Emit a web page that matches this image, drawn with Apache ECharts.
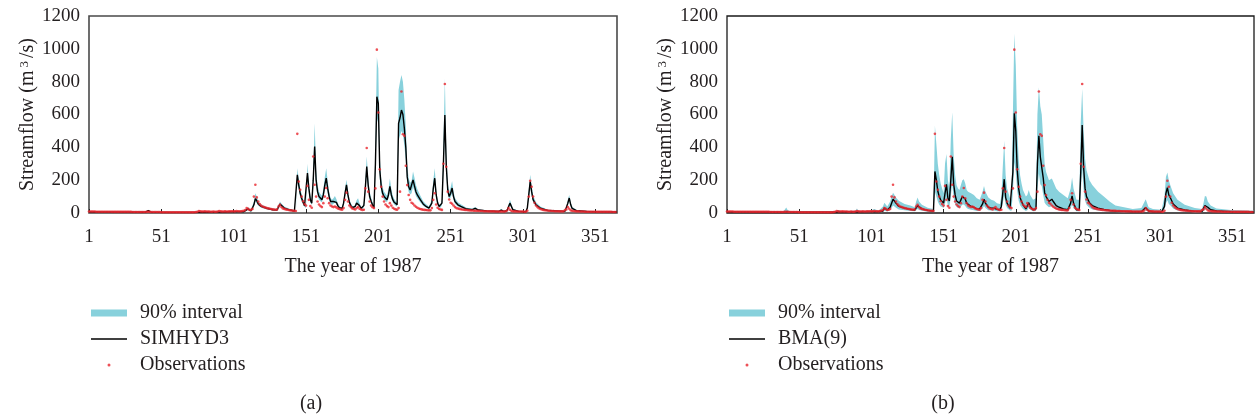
<!DOCTYPE html>
<html>
<head>
<meta charset="utf-8">
<title>Streamflow 1987</title>
<script src="https://cdn.jsdelivr.net/npm/echarts@6/dist/echarts.min.js"></script>
<style>
    body { margin: 0; background: #fff; }
    #main { width: 1257px; height: 419px; }
</style>
</head>
<body>
<div id="main"></div>
<script>
// axis ticks
var xTicks = [1, 51, 101, 151, 201, 251, 301, 351];
var dayMin = 1, dayMax = 366;
var yMax = 1200, yStep = 200;

// observed daily flow, day 1..365 (same in both panels)
var obs = [
    9,9,9,9,9,8,8,8,8,8,
    8,8,8,8,8,8,7,7,7,7,
    7,7,7,7,7,7,7,7,7,7,
    6,6,6,6,6,6,6,6,6,6,
    7,8,7,6,6,6,6,6,6,6,
    5,5,5,5,5,5,5,5,5,5,
    5,5,5,5,5,5,5,5,5,5,
    5,5,5,5,6,8,12,10,9,9,
    10,9,9,9,8,8,9,8,8,9,
    12,10,9,9,10,9,9,10,10,11,
    10,10,12,11,11,10,12,14,18,30,
    25,18,20,25,100,172,95,70,55,45,
    40,36,33,30,28,26,24,22,21,20,
    22,40,50,36,28,25,22,20,18,16,
    15,14,13,12,482,192,142,100,72,55,
    45,165,80,42,32,344,172,100,70,52,
    42,36,60,100,152,90,60,46,40,36,
    40,34,28,24,22,20,30,80,124,70,
    46,36,28,24,22,30,36,26,21,18,
    20,150,396,130,70,45,35,30,150,995,
    612,266,160,100,70,52,42,36,60,45,
    32,26,22,20,30,130,740,480,470,288,
    170,110,80,62,56,46,38,32,27,24,
    22,20,19,18,17,16,16,30,80,120,
    52,32,24,21,19,300,786,282,130,82,
    62,56,46,36,30,27,25,23,21,20,
    19,18,17,16,15,15,14,14,13,13,
    12,12,12,11,11,11,10,10,10,10,
    10,9,9,9,9,9,9,9,10,15,
    30,20,13,11,10,10,9,9,9,9,
    9,8,8,14,100,196,160,100,62,46,
    36,29,24,21,19,17,16,15,14,13,
    12,12,11,11,11,10,10,10,10,18,
    22,36,26,16,13,12,11,10,10,9,
    9,9,9,8,8,8,8,8,8,8,
    8,7,7,7,7,7,7,7,7,7,
    7,7,6,6,6
];

// panel (a): SIMHYD3 and its 90% interval
var daysA = [
    1,40,42,44,50,78,95,100,108,111,
    113,115,116,117,118,120,124,128,131,133,
    134,136,140,143,144,145,146,147,148,149,
    150,151,152,153,154,155,156,157,158,159,
    160,161,162,163,164,165,166,167,168,169,
    170,171,172,173,174,175,176,177,178,179,
    180,181,182,183,184,185,186,187,188,189,
    190,191,192,193,194,195,196,197,198,199,
    200,201,202,203,204,205,206,207,208,209,
    210,211,212,213,214,215,216,217,218,219,
    220,221,222,223,224,225,226,227,228,230,
    232,234,236,238,239,240,241,242,243,244,
    245,246,247,248,249,250,251,252,253,254,
    256,258,262,266,268,270,276,284,286,288,
    290,292,294,298,303,304,305,306,307,308,
    310,313,318,330,331,332,333,334,335,338,
    345,351,366
];
var simA = [
    6,5,15,5,4,5,6,8,8,25,
    12,50,88,75,55,40,28,20,18,55,
    45,30,18,12,10,233,170,120,90,65,
    45,40,243,150,80,60,200,405,200,130,
    100,90,81,110,170,212,150,100,70,60,
    70,80,65,45,32,25,28,60,120,172,
    110,65,45,32,30,40,60,70,45,28,
    26,45,150,283,170,100,72,50,30,300,
    708,668,263,162,120,100,90,81,110,162,
    110,81,65,55,50,546,580,627,600,516,
    400,220,160,140,150,202,165,130,110,81,
    55,40,30,60,150,212,110,60,40,40,
    60,300,597,283,140,100,120,152,100,70,
    50,40,24,20,28,18,12,9,18,9,
    15,60,20,10,8,30,110,192,130,81,
    50,30,15,10,20,60,91,50,28,14,
    9,8,6
];
var loA = [
    4,3,10,3,3,3,4,5,5,18,
    8,40,70,60,45,32,22,15,14,45,
    36,24,14,9,8,190,140,95,72,52,
    36,30,195,120,65,48,160,330,165,105,
    80,72,65,90,140,175,122,80,56,48,
    56,64,52,36,26,20,22,48,100,140,
    90,52,36,26,24,32,48,56,36,22,
    21,36,120,230,140,80,58,40,24,240,
    580,540,210,130,96,80,72,65,88,130,
    88,65,52,44,40,440,470,500,480,410,
    320,175,128,112,120,160,132,104,88,65,
    44,32,24,48,120,170,88,48,32,32,
    48,240,480,225,112,80,96,120,80,56,
    40,32,19,16,22,14,9,7,14,7,
    12,48,16,8,6,24,90,155,105,65,
    40,24,12,8,16,48,73,40,22,11,
    7,6,4
];
var hiA = [
    9,8,20,8,7,8,9,11,12,35,
    18,70,120,100,72,52,36,27,24,70,
    58,40,24,17,14,273,210,150,115,85,
    60,55,300,190,105,80,260,546,260,170,
    130,115,105,145,220,273,195,130,92,80,
    90,104,85,60,44,34,38,78,150,202,
    140,85,60,44,40,52,78,90,60,38,
    35,60,190,344,215,130,95,66,40,400,
    951,880,340,210,155,130,117,105,145,210,
    145,105,85,72,66,750,800,840,800,690,
    530,290,210,184,195,253,215,170,145,106,
    72,54,40,80,200,273,145,80,54,54,
    80,420,820,370,185,130,155,195,130,92,
    66,54,32,27,37,24,17,13,25,13,
    22,80,27,14,12,40,145,233,170,106,
    66,40,21,14,28,80,110,66,38,19,
    13,12,9
];

// panel (b): BMA(9) and its 90% interval
var daysB = [
    1,40,41,42,43,45,76,78,80,90,
    91,92,100,103,106,109,110,112,114,115,
    116,117,118,120,124,128,131,132,133,134,
    136,140,144,145,146,147,148,149,150,151,
    152,153,154,155,156,157,158,159,160,161,
    162,163,164,165,166,167,168,170,172,174,
    176,178,179,180,182,184,186,188,190,191,
    192,193,194,195,197,198,199,200,201,202,
    203,204,205,206,208,209,210,211,213,215,
    216,217,218,219,220,221,222,224,226,227,
    229,231,234,237,239,240,241,243,245,246,
    247,248,249,250,252,254,258,262,266,270,
    276,282,288,291,293,296,302,304,305,306,
    307,308,310,313,318,325,330,331,332,333,
    334,336,340,350,366
];
var simB = [
    6,5,6,8,6,5,5,6,6,6,
    8,6,7,8,8,12,30,18,35,60,
    84,75,60,40,30,22,18,30,45,35,
    25,16,12,253,200,134,100,80,73,60,
    120,175,90,73,200,342,175,110,73,65,
    60,80,100,104,85,60,50,40,35,25,
    25,55,84,60,35,30,30,22,20,40,
    120,206,94,60,30,25,250,608,500,267,
    150,94,70,50,25,35,63,40,20,25,
    300,471,342,330,216,124,100,70,84,70,
    45,35,25,20,60,104,60,20,20,250,
    536,277,150,100,63,45,30,22,15,12,
    10,8,8,33,12,8,6,40,120,155,
    110,94,55,30,18,10,9,20,45,53,
    35,20,12,8,6
];
var loB = [
    3,2,2,3,2,2,2,3,3,3,
    4,3,3,4,4,6,14,9,18,30,
    45,40,32,22,16,12,10,16,25,18,
    13,8,6,130,100,70,50,40,36,30,
    60,90,45,36,100,175,90,55,36,32,
    30,40,50,52,42,30,25,20,17,12,
    12,28,42,30,17,15,15,11,10,20,
    60,105,48,30,15,12,125,310,250,135,
    75,47,35,25,12,17,32,20,10,12,
    150,240,175,165,110,62,50,35,42,35,
    22,17,12,10,30,52,30,10,10,125,
    270,140,75,50,32,22,15,11,8,6,
    5,4,4,16,6,4,3,20,60,78,
    55,47,28,15,9,5,4,10,22,26,
    17,10,6,4,3
];
var hiB = [
    12,10,20,33,18,10,10,18,12,14,
    28,14,14,24,14,40,63,40,70,100,
    124,110,95,75,55,45,35,70,94,70,
    50,32,25,532,420,300,230,180,150,120,
    300,359,200,150,450,613,350,230,170,150,
    140,170,200,206,180,140,130,120,110,90,
    80,130,165,130,95,80,75,60,55,100,
    280,440,230,150,90,80,600,1092,900,520,
    330,230,180,140,100,110,140,110,80,90,
    600,766,650,600,450,300,250,200,210,190,
    150,130,110,90,150,216,150,80,80,550,
    757,500,330,260,200,170,130,100,70,45,
    35,25,30,84,35,25,20,100,220,247,
    200,170,120,80,50,30,25,60,104,100,
    70,45,28,18,14
];

var font = 'Liberation Serif';
var ink = '#231f20';
var bandColor = '#88d1dc';
var obsColor = '#e8262d';

function pairs(days, vals) {
    return days.map(function (d, i) { return [d, vals[i]]; });
}

// the band is one polygon: upper bound forwards, lower bound backwards
function bandRenderer(days, lo, hi) {
    return function (params, api) {
        if (params.dataIndex !== 0) return;
        var pts = [];
        for (var k = 0; k < days.length; k++) pts.push(api.coord([days[k], hi[k]]));
        for (var k = days.length - 1; k >= 0; k--) pts.push(api.coord([days[k], lo[k]]));
        return { type: 'polygon', shape: { points: pts }, style: { fill: bandColor } };
    };
}

function panelSeries(i, days, sim, lo, hi, simName) {
    return [
        {
            name: '90% interval', type: 'custom', xAxisIndex: i, yAxisIndex: i,
            data: days.map(function (d, k) { return [d, lo[k], hi[k]]; }),
            encode: { x: 0, y: [1, 2] },
            renderItem: bandRenderer(days, lo, hi),
            itemStyle: { color: bandColor }, silent: true, z: 1
        },
        {
            name: simName, type: 'line', xAxisIndex: i, yAxisIndex: i,
            data: pairs(days, sim), symbol: 'none',
            itemStyle: { color: '#000' },
            lineStyle: { color: '#000', width: 1.4 }, z: 3
        },
        {
            name: 'Observations', type: 'scatter', xAxisIndex: i, yAxisIndex: i,
            data: obs.map(function (v, k) { return [k + 1, v]; }),
            symbol: 'circle', symbolSize: 2.6,
            itemStyle: { color: obsColor }, z: 4
        }
    ];
}

function xAxisFor(i) {
    return {
        gridIndex: i, type: 'value', min: dayMin, max: dayMax,
        axisLine: { show: false }, splitLine: { show: false },
        axisTick: { show: true, inside: true, length: 4, customValues: xTicks, lineStyle: { color: '#222', width: 1 } },
        axisLabel: { customValues: xTicks, margin: 15, fontFamily: font, fontSize: 19, color: ink },
        name: 'The year of 1987', nameLocation: 'middle', nameGap: 44,
        nameTextStyle: { fontFamily: font, fontSize: 20, color: ink }
    };
}

function yAxisFor(i) {
    return {
        gridIndex: i, type: 'value', min: 0, max: yMax, interval: yStep,
        axisLine: { show: false }, axisTick: { show: false }, splitLine: { show: false },
        axisLabel: {
            margin: 9, fontFamily: font, fontSize: 19, color: ink,
            formatter: function (v) { return String(v); }
        },
        name: '{a|Streamflow (m}{s|3}{a|/s)}', nameLocation: 'middle', nameGap: 50, nameRotate: 90,
        nameTextStyle: {
            rich: {
                a: { fontFamily: font, fontSize: 20, color: ink },
                s: { fontFamily: font, fontSize: 13, color: ink, verticalAlign: 'top', padding: [0, 3, 8, 3] }
            }
        }
    };
}

function legendRow(left, top, name, icon, w, h, color) {
    return {
        left: left, top: top, padding: 0, orient: 'vertical', selectedMode: false,
        itemWidth: w, itemHeight: h,
        data: [{ name: name, icon: icon, itemStyle: { color: color } }],
        textStyle: { fontFamily: font, fontSize: 20, color: ink, padding: [0, 0, 0, 8] }
    };
}

window.onload = function () {
    var chart = echarts.init(document.getElementById('main'));
    var option = {
        animation: false,
        backgroundColor: '#fff',
        grid: [
            { left: 89, top: 16, width: 528, height: 197, show: true, borderColor: '#4a4a4a', borderWidth: 1.6, backgroundColor: 'transparent' },
            { left: 727, top: 16, width: 527, height: 197, show: true, borderColor: '#1a1a1a', borderWidth: 1.3, backgroundColor: 'transparent' }
        ],
        xAxis: [xAxisFor(0), xAxisFor(1)],
        yAxis: [yAxisFor(0), yAxisFor(1)],
        legend: [
            legendRow(91, 303, '90% interval', 'rect', 36, 7, bandColor),
            legendRow(91, 329, 'SIMHYD3', 'rect', 36, 1.5, '#000'),
            legendRow(107.5, 355, 'Observations', 'circle', 36, 3, obsColor),
            legendRow(729, 303, '90% interval', 'rect', 36, 7, bandColor),
            legendRow(729, 329, 'BMA(9)', 'rect', 36, 1.5, '#000'),
            legendRow(745.5, 355, 'Observations', 'circle', 36, 3, obsColor)
        ],
        graphic: [
            { type: 'text', x: 311, y: 404, style: { text: '(a)', font: '20px "Liberation Serif"', fill: ink, align: 'center', verticalAlign: 'middle' } },
            { type: 'text', x: 943, y: 404, style: { text: '(b)', font: '20px "Liberation Serif"', fill: ink, align: 'center', verticalAlign: 'middle' } }
        ],
        series: panelSeries(0, daysA, simA, loA, hiA, 'SIMHYD3')
            .concat(panelSeries(1, daysB, simB, loB, hiB, 'BMA(9)'))
    };
    chart.setOption(option);
};
</script>
</body>
</html>
